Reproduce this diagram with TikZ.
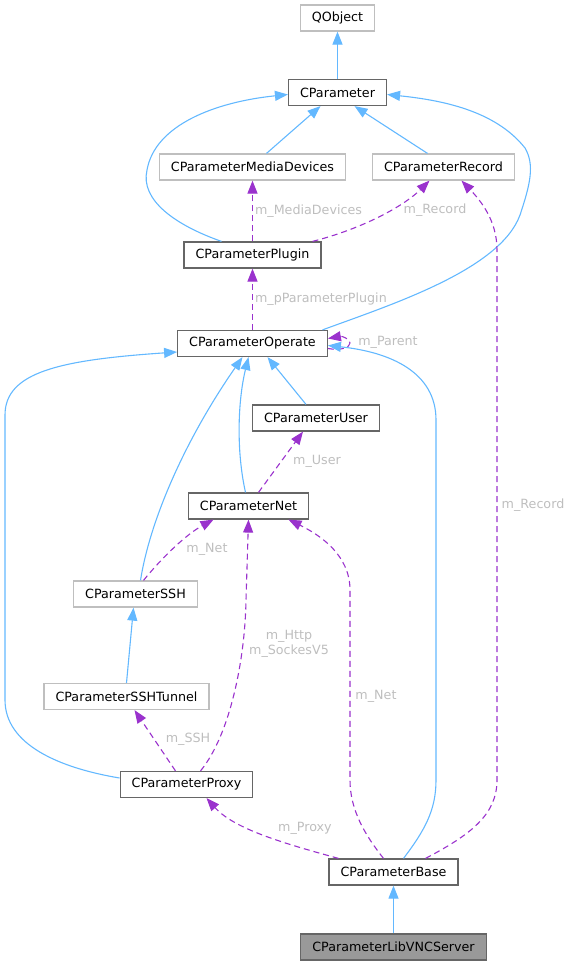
\documentclass[tikz,border=0pt]{standalone}
\usepackage{fontspec}
\setmainfont{DejaVu Sans}
\usetikzlibrary{arrows.meta}
\definecolor{inhcol}{HTML}{63B8FF}
\definecolor{usecol}{HTML}{9A32CD}
\definecolor{lblcol}{RGB}{190,190,190}
\definecolor{doccol}{HTML}{666666}
\definecolor{undoccol}{HTML}{BFBFBF}
\tikzset{
  cls/.style={
    rectangle,
    draw=doccol,
    line width=1.2pt,
    fill=white,
    align=center,
    minimum height=26pt,
    inner xsep=11.5pt,
    inner ysep=0pt,
    font=\fontsize{12.7}{15}\selectfont
  },
  extcls/.style={cls, draw=undoccol},
  maincls/.style={cls, fill=black!40},
  inherit/.style={-{Triangle[length=13pt, width=10pt]}, draw=inhcol, line width=1.1pt},
  usage/.style={-{Triangle[length=13pt, width=10pt]}, draw=usecol, line width=1.1pt, dash pattern=on 6pt off 4pt},
  lbl/.style={text=lblcol, align=center, inner sep=2pt, font=\fontsize{12.7}{15}\selectfont}
}
\begin{document}
\begin{tikzpicture}[x=1pt, y=-1pt]
\useasboundingbox (0,0) rectangle (572,965);
\node[extcls] (qobj) at (337.5,18) {QObject};
\node[cls] (param) at (337.5,92.5) {CParameter};
\node[extcls] (media) at (252.5,167) {CParameterMediaDevices};
\node[extcls] (record) at (443.5,167) {CParameterRecord};
\node[cls] (plugin) at (252.5,255) {CParameterPlugin};
\node[cls] (oper) at (252.5,343.5) {CParameterOperate};
\node[cls] (user) at (316,418) {CParameterUser};
\node[cls] (net) at (248.5,506) {CParameterNet};
\node[extcls] (ssh) at (135.5,594) {CParameterSSH};
\node[extcls] (tunnel) at (126.5,696.5) {CParameterSSHTunnel};
\node[cls] (proxy) at (186.5,784.5) {CParameterProxy};
\node[cls] (base) at (393.5,872) {CParameterBase};
\node[maincls] (vnc) at (393.5,947) {CParameterLibVNCServer};

\draw[inherit] (param) -- (qobj);
\draw[inherit] ([xshift=14]media.north) -- ([xshift=-17]param.south);
\draw[inherit] ([xshift=-16]record.north) -- ([xshift=17]param.south);
\draw[inherit] ([xshift=-31]plugin.north) .. controls (175,225) and (140,200) .. (147,170) .. controls (155,125) and (215,102) .. ([yshift=-2]param.west);
\draw[inherit] ([xshift=70]oper.north) .. controls (390,305) and (500,270) .. (520,215) .. controls (530,185) and (535,165) .. (525,148) .. controls (495,110) and (440,100) .. ([yshift=-2]param.east);
\draw[usage] (plugin) -- node[lbl, right] {m\_MediaDevices} (media);
\draw[usage] ([xshift=60]plugin.north) .. controls (365,228) and (405,205) .. ([xshift=-14]record.south);
\node[lbl] (lrec1) at (435,210) {m\_Record};
\draw[usage] (oper) -- node[lbl, right] {m\_pParameterPlugin} (plugin);
\draw[usage] ([yshift=-5]oper.east) .. controls (342,351) and (350,347) .. (350,343) .. controls (350,339) and (342,336) .. ([yshift=5]oper.east);
\node[lbl] (lparent) at (388,342) {m\_Parent};
\draw[inherit] ([xshift=-10]user.north) -- ([xshift=15]oper.south);
\draw[inherit] ([xshift=-3]net.north) .. controls (236,450) and (238,400) .. ([xshift=-4]oper.south);
\draw[inherit] ([xshift=5]ssh.north) .. controls (150,520) and (185,440) .. ([xshift=-10]oper.south);
\draw[usage] ([xshift=10]net.north) -- ([xshift=-13]user.south);
\node[lbl] (luser) at (317,461) {m\_User};
\draw[usage] ([xshift=8]ssh.north) .. controls (160,560) and (185,535) .. ([xshift=-35]net.south);
\node[lbl] (lnet1) at (207,549) {m\_Net};
\draw[inherit] (tunnel.north) -- ([xshift=-2]ssh.south);
\draw[usage] ([xshift=-11]proxy.north) -- ([xshift=8]tunnel.south);
\node[lbl] (lssh) at (188,739) {m\_SSH};
\draw[usage] ([xshift=14]proxy.north) .. controls (230,735) and (245,660) .. (246,600) -- (net.south);
\node[lbl] (lhttp) at (289,644) {m\_Http\\m\_SockesV5};
\draw[usage] ([xshift=-10]base.north) .. controls (365,835) and (350,810) .. (350,780) -- (350,590) .. controls (350,555) and (320,535) .. ([xshift=40]net.south);
\node[lbl] (lnet2) at (376,696) {m\_Net};
\draw[inherit] ([xshift=10]base.north) .. controls (425,830) and (436,810) .. (436,780) -- (436,420) .. controls (436,372) and (390,352) .. ([yshift=-2]oper.east);
\draw[inherit] ([yshift=6.5]proxy.west) .. controls (60,768) and (5,745) .. (5,700) -- (5,415) .. controls (5,372) and (60,360) .. ([yshift=-8.5]oper.west);
\draw[usage] ([xshift=-55]base.north) .. controls (290,845) and (235,830) .. ([xshift=20]proxy.south);
\node[lbl] (lproxy) at (305,828) {m\_Proxy};
\draw[usage] ([xshift=32]base.north) .. controls (470,835) and (497,815) .. (497,780) -- (497,250) .. controls (497,220) and (480,200) .. ([xshift=18]record.south);
\node[lbl] (lrec2) at (533,505) {m\_Record};
\draw[inherit] (vnc) -- (base);
\end{tikzpicture}
\end{document}
